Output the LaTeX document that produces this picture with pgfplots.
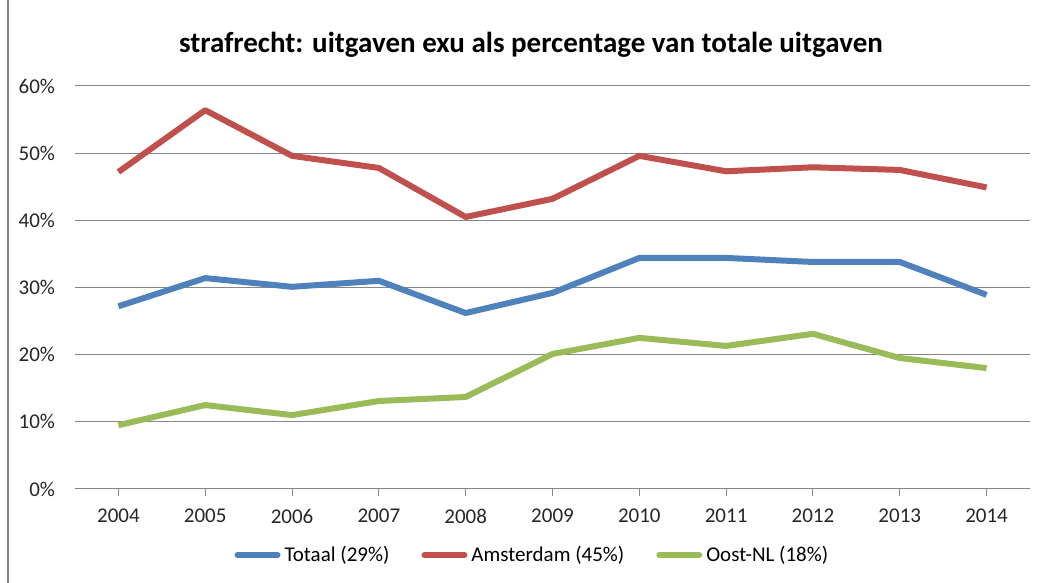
\documentclass[border=0pt]{standalone}
\usepackage{pgfplots}
\pgfplotsset{compat=1.18}
\usepackage{fontspec}
\setmainfont{Carlito}
\definecolor{cblue}{HTML}{4F81BD}
\definecolor{cred}{HTML}{C0504D}
\definecolor{cgreen}{HTML}{9BBB59}
\definecolor{cgrid}{HTML}{868686}
\begin{document}
\begin{tikzpicture}
\useasboundingbox (0,0) rectangle (520pt,291.5pt);
\draw[cgrid, line width=0.8pt] (4pt,0) -- (4pt,291.5pt);
\node[font=\bfseries\fontsize{14.5}{17}\selectfont] at (265.5pt,269pt) {strafrecht: uitgaven exu als percentage van totale uitgaven};
\begin{axis}[
  at={(37.5pt,47pt)}, anchor=south west,
  scale only axis, width=477.5pt, height=201.5pt,
  xmin=-0.5, xmax=10.5, ymin=0, ymax=60,
  xtick={0,...,10},
  xticklabels={2004,2005,2006,2007,2008,2009,2010,2011,2012,2013,2014},
  ytick={0,10,...,60},
  yticklabel={\pgfmathprintnumber{\tick}\%},
  /pgf/number format/assume math mode=true,
  ymajorgrids, grid style={cgrid, line width=0.5pt},
  axis x line*=bottom, axis y line*=left,
  y axis line style={draw=none},
  x axis line style={cgrid, line width=0.5pt, -},
  xtick style={cgrid, line width=0.5pt},
  tick align=outside, major tick length=3.5pt,
  ytick style={draw=none},
  ticklabel style={font=\fontsize{10.5}{12}\selectfont, text=black!85},
  xticklabel style={yshift=-3pt},
  yticklabel style={xshift=-3pt},
  legend style={at={(0.48,-0.164)}, anchor=center, draw=none, fill=none,
    font=\fontsize{10.5}{12}\selectfont, legend columns=3,
    /tikz/every even column/.append style={column sep=14pt}},
  legend image code/.code={\draw[#1, line cap=round] (0pt,0pt) -- (20pt,0pt);},
  every axis plot/.append style={line width=3pt, line join=round},
]
\addplot[cblue] coordinates {(0,27.2)(1,31.4)(2,30.1)(3,31.0)(4,26.2)(5,29.2)(6,34.4)(7,34.4)(8,33.8)(9,33.8)(10,28.9)};
\addlegendentry{Totaal (29\%)}
\addplot[cred] coordinates {(0,47.2)(1,56.4)(2,49.6)(3,47.8)(4,40.5)(5,43.2)(6,49.6)(7,47.3)(8,47.9)(9,47.5)(10,44.9)};
\addlegendentry{Amsterdam (45\%)}
\addplot[cgreen] coordinates {(0,9.5)(1,12.5)(2,11.0)(3,13.1)(4,13.7)(5,20.1)(6,22.5)(7,21.3)(8,23.1)(9,19.5)(10,18.0)};
\addlegendentry{Oost-NL (18\%)}
\end{axis}
\end{tikzpicture}
\end{document}
